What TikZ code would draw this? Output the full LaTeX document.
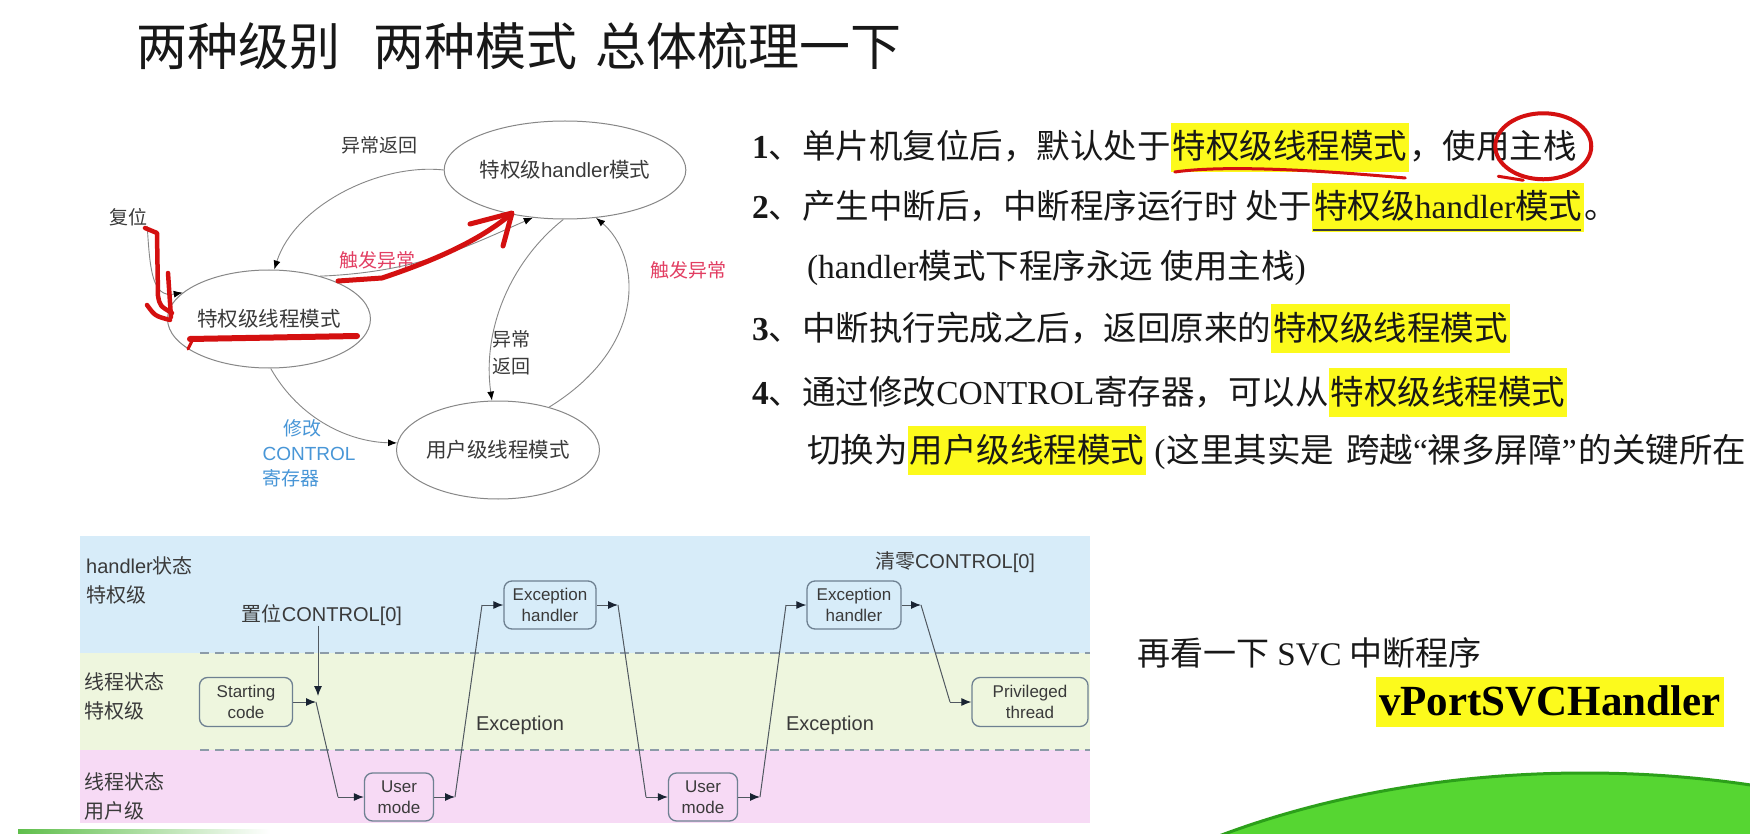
\documentclass[tikz,border=0pt]{standalone}
\usepackage{fontspec}
\setmainfont{Liberation Serif}
\setsansfont{Liberation Sans}
\newfontfamily\cjk{Noto Sans CJK SC}
\usetikzlibrary{shapes.geometric,arrows.meta,calc}

\definecolor{inkdark}{RGB}{24,24,24}
\definecolor{diagtext}{RGB}{58,58,58}
\definecolor{edgegray}{RGB}{135,135,135}
\definecolor{labelred}{RGB}{226,62,98}
\definecolor{labelblue}{RGB}{72,150,215}
\definecolor{penred}{RGB}{212,16,16}
\definecolor{hlyellow}{RGB}{252,250,28}
\definecolor{bandblue}{RGB}{215,236,249}
\definecolor{bandgreen}{RGB}{238,246,222}
\definecolor{bandpink}{RGB}{247,218,245}
\definecolor{dashgray}{RGB}{140,155,168}
\definecolor{boxedge}{RGB}{110,128,145}
\definecolor{flowline}{RGB}{80,88,96}
\definecolor{flowtip}{RGB}{25,35,50}
\definecolor{hillgreen}{RGB}{86,214,50}
\definecolor{hilledge}{RGB}{44,160,26}

% yellow marker behind a phrase
\newcommand\hlbox[1]{{\setlength\fboxsep{0pt}\colorbox{hlyellow}{\rule[-13pt]{0pt}{49pt}\hspace{2pt}#1\hspace{2pt}}}}

\tikzset{
  state/.style={ellipse, draw=edgegray, line width=1pt, minimum width=198pt,
    minimum height=98pt, inner sep=0pt, text=diagtext,
    font=\fontsize{20.5}{24}\selectfont\cjk},
  edge/.style={draw=edgegray, line width=0.9pt,
    -{Latex[length=9pt,width=7pt,color=black]}},
  lbl/.style={text=diagtext, inner sep=0pt, align=center,
    font=\fontsize{19}{27}\selectfont\cjk},
  pen/.style={draw=penred, line width=4.5pt, line cap=round, line join=round},
  stepbox/.style={draw=boxedge, line width=1.3pt, rounded corners=8pt,
    minimum width=92pt, minimum height=48pt, inner sep=0pt, align=center,
    text=diagtext, font=\fontsize{17}{21}\selectfont\sffamily},
  flow/.style={draw=flowline, line width=1pt,
    -{Latex[length=10pt,width=8pt,color=flowtip]}},
  wire/.style={draw=flowline, line width=1pt},
  bandlbl/.style={anchor=west, align=left, inner sep=0pt, text=diagtext,
    font=\fontsize{20}{29}\selectfont\cjk},
  lanesep/.style={draw=dashgray, line width=2pt, dash pattern=on 9pt off 6pt},
  flowlbl/.style={inner sep=0pt, text=diagtext,
    font=\fontsize{20}{24}\selectfont\cjk},
  txtline/.style={anchor=base west, inner sep=0pt, outer sep=0pt, text=inkdark,
    font=\fontsize{33.5}{40}\selectfont},
}

\begin{document}
\begin{tikzpicture}[x=1pt,y=-1pt]
\useasboundingbox (0,0) rectangle (1750,834);
\clip (0,0) rectangle (1750,834);
\fill[white] (0,0) rectangle (1750,834);

% ---------- title ----------
\node[anchor=base west, inner sep=0pt, text=inkdark,
  font=\fontsize{51}{60}\selectfont\cjk] (title) at (136,66)
  {两种级别\hspace{33pt}两种模式\hspace{18pt}总体梳理一下};

% ---------- mode state diagram ----------
\node[state] (hmode) at (565,170) {特权级{\sffamily handler}模式};
\node[state] (tmode) at (269,319) {特权级线程模式};
\node[state] (umode) at (498,450) {用户级线程模式};

\node[lbl] (reset) at (128,217) {复位};
\node[lbl] (retlbl) at (379,145) {异常返回};
\node[lbl, text=labelred] (raise1) at (377,260) {触发异常};
\node[lbl] (ret2) at (511,353) {异常\\返回};
\node[lbl, text=labelred] (raise2) at (688,270) {触发异常};
\node[lbl, text=labelblue, align=left, font=\fontsize{19}{25}\selectfont\cjk]
  (ctl) at (309,453) {\hspace{21pt}修改\\{\sffamily CONTROL}\\寄存器};

\draw[edge] (reset.south east) .. controls (150,270) and (152,298) .. (tmode.163);
\draw[edge] (hmode.west) .. controls (380,163) and (295,205) .. (tmode.84);
\draw[edge] (tmode.40) .. controls (420,272) and (470,245) .. (hmode.236);
\draw[edge] (hmode.268) .. controls (510,262) and (482,330) .. (umode.97);
\draw[edge] (umode.40) .. controls (650,345) and (640,255) .. (hmode.303);
\draw[edge] (tmode.272) .. controls (300,420) and (350,442) .. (umode.176);

% hand-drawn red pen marks
\draw[pen] (145,228) -- (157,233) -- (158,296) .. controls (160,306) .. (172,313);
\draw[pen] (168,273) -- (171,317);
\draw[pen] (147,305) .. controls (155,316) .. (170,320);
\draw[pen, line width=6pt] (190,339) -- (357,336);
\draw[pen, line width=3pt] (192,341) -- (188,349);
\draw[pen, line width=5pt] (338,281) -- (382,278) .. controls (430,262) and (478,242) .. (511,214);
\draw[pen, line width=5pt] (470,224) -- (512,213) -- (503,246);

% ---------- notes on the right ----------
\node[txtline] (l1a) at (752,159) {\textbf{1}{\cjk 、单片机复位后，默认处于}};
\node[txtline] (l1b) at (l1a.base east) {\hlbox{\cjk 特权级线程模式}};
\node[txtline] (l1c) at (l1b.base east) {\cjk ，使用};
\node[txtline] (l1d) at (l1c.base east) {\cjk 主栈};

\node[txtline] (l2a) at (752,219) {\textbf{2}{\cjk 、产生中断后，中断程序运行时 处于 }};
\node[txtline] (l2b) at (l2a.base east) {\hlbox{{\cjk 特权级}handler{\cjk 模式}}};
\node[txtline] (l2c) at (l2b.base east) {\cjk 。};

\node[txtline] (l3) at (807,279) {(handler{\cjk 模式下程序永远 使用主栈})};

\node[txtline] (l4a) at (752,340) {\textbf{3}{\cjk 、中断执行完成之后，返回原来的}};
\node[txtline] (l4b) at (l4a.base east) {\hlbox{\cjk 特权级线程模式}};

\node[txtline] (l5a) at (752,404) {\textbf{4}{\cjk 、通过修改}CONTROL{\cjk 寄存器，可以从}};
\node[txtline] (l5b) at (l5a.base east) {\hlbox{\cjk 特权级线程模式}};

\node[txtline] (l6a) at (807,462) {\cjk 切换为 };
\node[txtline] (l6b) at (l6a.base east) {\hlbox{\cjk 用户级线程模式}};
\node[txtline] (l6c) at (l6b.base east)
  {\ (\hspace{1pt}{\cjk 这里其实是\hspace{12pt}跨越}“{\cjk 裸多屏障}”\hspace{2pt}{\cjk 的关键所在}};

% pen marks on the notes
\draw[draw=penred, line width=3pt, line cap=round]
  ($(l1b.south west)+(4,0)$) .. controls ($(l1b.south west)+(60,-8)$) and ($(l1b.south east)+(-70,0)$) .. ($(l1b.south east)+(-4,6)$);
\draw[draw=penred, line width=4pt, line cap=round] (l1d.center) ellipse [x radius=48, y radius=33];
\draw[draw=penred, line width=3pt, line cap=round] ($(l1d.center)+(-45,30)$) -- ($(l1d.center)+(-20,34)$);
\draw[draw=inkdark!85, line width=2.5pt] ($(l2b.south west)+(1,-2)$) -- ($(l2b.south east)+(-3,-2)$);

% ---------- state lanes ----------
\begin{scope}
\clip (80,536) rectangle (1090,823);
\fill[bandblue] (80,536) rectangle (1090,653);
\fill[bandgreen] (80,653) rectangle (1090,750);
\fill[bandpink] (80,750) rectangle (1090,823);
\draw[lanesep] (200,653) -- (1090,653);
\draw[lanesep] (200,750) -- (1090,750);

\node[bandlbl] (laneh) at (86,580) {{\sffamily handler}状态\\特权级};
\node[bandlbl] (lanet) at (84,696) {线程状态\\特权级};
\node[bandlbl] (laneu) at (84,796) {线程状态\\用户级};

\node[stepbox, minimum width=93pt, minimum height=49pt] (start) at (246,702) {Starting\\code};
\node[stepbox, minimum width=69pt] (user1) at (399,797) {User\\mode};
\node[stepbox] (exc1) at (550,605) {Exception\\handler};
\node[stepbox, minimum width=69pt] (user2) at (703,797) {User\\mode};
\node[stepbox, minimum width=94pt] (exc2) at (854,605) {Exception\\handler};
\node[stepbox, minimum width=116pt, minimum height=49pt] (priv) at (1030,702) {Privileged\\thread};

\node[flowlbl] (setctl) at (322,615) {置位{\sffamily CONTROL[0]}};
\node[flowlbl] (clrctl) at (955,562) {清零{\sffamily CONTROL[0]}};
\node[flowlbl, font=\fontsize{20}{24}\selectfont\sffamily] (exlbl1) at (520,725) {Exception};
\node[flowlbl, font=\fontsize{20}{24}\selectfont\sffamily] (exlbl2) at (830,725) {Exception};

\coordinate (j1) at (316,702);
\coordinate (j1top) at (318,696);
\coordinate (k1) at (338,797);
\coordinate (j2) at (455,797);
\coordinate (k2) at (482,605);
\coordinate (j3) at (618,605);
\coordinate (k3) at (646,797);
\coordinate (j4) at (760,797);
\coordinate (k4) at (786,605);
\coordinate (j5) at (921,605);
\coordinate (k5) at (950,702);

\draw[flow] (setctl.south -| j1top) -- (j1top);
\draw[flow] (start.east) -- (j1);
\draw[wire] (j1) -- (k1);
\draw[flow] (k1) -- (user1.west);
\draw[flow] (user1.east) -- (j2);
\draw[wire] (j2) -- (k2);
\draw[flow] (k2) -- (exc1.west);
\draw[flow] (exc1.east) -- (j3);
\draw[wire] (j3) -- (k3);
\draw[flow] (k3) -- (user2.west);
\draw[flow] (user2.east) -- (j4);
\draw[wire] (j4) -- (k4);
\draw[flow] (k4) -- (exc2.west);
\draw[flow] (exc2.east) -- (j5);
\draw[wire] (j5) -- (k5);
\draw[flow] (k5) -- (priv.west);
\end{scope}

% ---------- SVC note ----------
\node[anchor=base west, inner sep=0pt, text=inkdark, font=\fontsize{33}{40}\selectfont]
  (svc) at (1137,665) {{\cjk 再看一下} SVC {\cjk 中断程序}};
\node[anchor=base west, inner sep=0pt, text=black, font=\fontsize{43}{50}\selectfont\bfseries]
  (handler) at (1376,715)
  {{\setlength\fboxsep{0pt}\colorbox{hlyellow}{\rule[-12pt]{0pt}{50pt}\hspace{3pt}vPortSVCHandler\hspace{3pt}}}};

% ---------- green hill and edge stripe ----------
\fill[hillgreen] (1585,1174) ellipse [x radius=680, y radius=401];
\draw[hilledge, line width=3pt] (1585,1174) ellipse [x radius=680, y radius=401];
\shade[left color={rgb,255:red,95;green,190;blue,75}, right color=white] (18,829) rectangle (270,834);
\end{tikzpicture}
\end{document}
